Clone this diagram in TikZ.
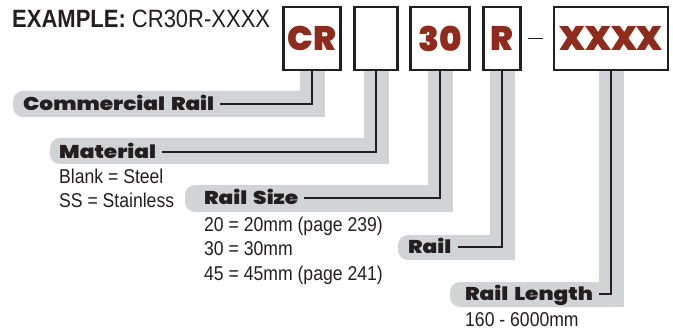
\documentclass[tikz,border=0pt]{standalone}
\usepackage{fontspec}
\setmainfont{Liberation Sans}[FakeStretch=0.88]
\newfontfamily\tagfont{Poppins Black}[FakeStretch=1.17, WordSpace=1.6]
\newfontfamily\codefont{Poppins Black}
\definecolor{railred}{HTML}{8E2B1D}
\definecolor{bandgrey}{HTML}{D1D3D4}
\definecolor{ink}{HTML}{231F20}

\tikzset{
  codebox/.style={draw=ink, line width=2.2pt, fill=white, inner sep=0pt, text=railred,
    font=\codefont\fontsize{34}{34}\selectfont, minimum height=63pt},
  tag/.style={font=\tagfont\fontsize{18.5}{18.5}\selectfont, text=ink, inner xsep=6pt,
    inner ysep=0pt, text height=13pt, text depth=0pt, anchor=west},
  desc/.style={font=\fontsize{20}{24}\selectfont, text=ink, inner sep=0pt, anchor=base west},
  link/.style={draw=ink, line width=2pt},
  band/.style={fill=bandgrey}
}

\begin{document}
\begin{tikzpicture}[x=1pt, y=-1pt]
  \useasboundingbox (0,0) rectangle (673,329);

  % grey bands behind the leaders
  \foreach \xl/\yt/\yb/\cx in {13/91/117/312, 50/138/164/376, 185/185/212/440,
                               398/235/260/502, 450/282/307/611}{
    \fill[band, rounded corners=10pt] (\xl,\yt) rectangle (\cx+12.5,\yb);
    \fill[band] (\cx-12.5,70) rectangle (\cx+12.5,\yb);
  }

  \node[anchor=base west, inner sep=0pt, text=ink, font=\fontsize{25}{25}\selectfont]
    (example) at (12,28) {\textbf{EXAMPLE:} CR30R-XXXX};

  % code boxes
  \node[codebox, minimum width=57pt] (cr) at (312,38.5) {CR};
  \node[codebox, minimum width=43pt] (blank) at (376,38.5) {};
  \node[codebox, minimum width=59pt] (size) at (440,38.5) {30};
  \node[codebox, minimum width=37pt] (rr) at (502,38.5) {R};
  \node[codebox, minimum width=114pt] (len) at (611,38.5) {XXXX};
  \draw[link, line width=1.5pt] ([xshift=6pt]rr.east) -- ([xshift=-10pt]len.west);

  % labels
  \node[tag] (tagcr) at (17,104) {Commercial Rail};
  \node[tag] (tagmat) at (53,152) {Material};
  \node[tag] (tagsize) at (198,198) {Rail Size};
  \node[tag] (tagrail) at (402,247) {Rail};
  \node[tag] (taglen) at (459,294) {Rail Length};

  \draw[link] (tagcr.east) -| (cr.south);
  \draw[link] (tagmat.east) -| (blank.south);
  \draw[link] (tagsize.east) -| (size.south);
  \draw[link] (tagrail.east) -| (rr.south);
  \draw[link] (taglen.east) -| (len.south);

  % options
  \node[desc] (steel) at (59,183) {Blank = Steel};
  \node[desc] (stainless) at (59,207) {SS = Stainless};
  \node[desc] (s20) at (204,231) {20 = 20mm (page 239)};
  \node[desc] (s30) at (204,255) {30 = 30mm};
  \node[desc] (s45) at (204,280) {45 = 45mm (page 241)};
  \node[desc] (range) at (465,326) {160 - 6000mm};
\end{tikzpicture}
\end{document}
